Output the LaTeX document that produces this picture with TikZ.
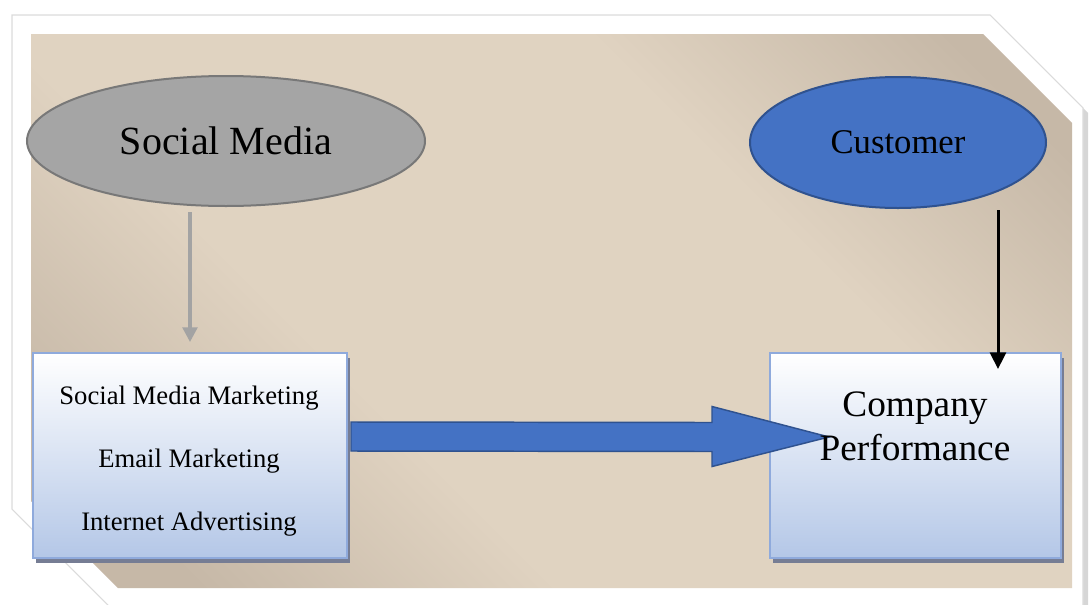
\documentclass[tikz,border=0pt]{standalone}
\usepackage{fontspec}
\setmainfont{Liberation Serif}
\usetikzlibrary{shapes.geometric,arrows.meta,calc,shadows,positioning}

\definecolor{paneltop}{RGB}{255,255,255}
\definecolor{panelbottom}{RGB}{180,199,231}
\definecolor{sandlight}{RGB}{224,211,193}
\definecolor{sanddark}{RGB}{198,184,167}

\pgfdeclarehorizontalshading{sandband}{100bp}{color(0bp)=(sanddark); color(22bp)=(sanddark); color(38bp)=(sandlight); color(64bp)=(sandlight); color(80bp)=(sanddark); color(100bp)=(sanddark)}

\begin{document}
\begin{tikzpicture}[x=0.75pt,y=0.75pt,yscale=-1,xscale=1,
  oval/.style={ellipse, line width=1.5pt, inner sep=0pt},
  panel/.style={rectangle, draw={rgb, 255:red, 143; green, 170; blue, 220 }, line width=1.5pt,
    top color=paneltop, bottom color=panelbottom,
    drop shadow={shadow xshift=2.5pt, shadow yshift=-3.5pt, fill={rgb, 255:red, 118; green, 125; blue, 148 }, opacity=1}},
  graylink/.style={draw={rgb, 255:red, 163; green, 163; blue, 163 }, line width=2.5pt, -{Triangle[width=11pt,length=11pt]}},
  blacklink/.style={draw=black, line width=2.25pt, -{Triangle[width=12pt,length=12.5pt]}},
  blockarrow/.style={draw={rgb, 255:red, 47; green, 82; blue, 143 }, fill={rgb, 255:red, 68; green, 114; blue, 196 }, line width=1.1pt, line join=miter}
]
\useasboundingbox (0,0) rectangle (1089,604);

%Frame shadow
\fill [black, opacity=0.16] (16,19) -- (994,19) -- (1088,113) -- (1088,610) -- (113,610) -- (16,513) -- cycle ;
%Frame
\draw [draw=black!14, line width=0.8pt, fill=white] (12,15) -- (990,15) -- (1083,108) -- (1083,606) -- (109,606) -- (12,509) -- cycle ;
%Sand panel
\path [shading=sandband, shading angle=45] (31,34) -- (983,34) -- (1072,123) -- (1072,588) -- (118,588) -- (31,501) -- cycle ;

% Ellipses
\node [oval, fill={rgb, 255:red, 165; green, 165; blue, 165 }, draw={rgb, 255:red, 120; green, 120; blue, 120 },
  minimum width=298.5pt, minimum height=97.5pt, font=\fontsize{30}{36}\selectfont] (social) at (226,141) {Social Media};
\node [oval, fill={rgb, 255:red, 68; green, 114; blue, 196 }, draw={rgb, 255:red, 47; green, 82; blue, 143 },
  minimum width=222pt, minimum height=98.25pt, font=\fontsize{26}{31}\selectfont] (cust) at (898,142.5) {Customer};

% Boxes
\node [panel, minimum width=235.5pt, minimum height=153.75pt] (mkt) at (190,455.5) {};
\node [panel, minimum width=218.25pt, minimum height=153.75pt] (perf) at (915.5,455.5) {};

% Text Node
\node [align=center, font=\fontsize{20}{47}\selectfont] (mktlabel) at (189,461) {Social Media Marketing\\Email Marketing\\Internet Advertising};

% Connectors
\draw [graylink, shorten <=3.75pt, shorten >=7.5pt] (social.south -| mkt.north) -- (mkt.north);
\draw [blacklink] ($(cust.south)+(100,1)$) -- ($(perf.north)+(82.5,17)$);

%Block arrow
\coordinate (tail) at ($(mkt.east)+(3,-19)$);
\coordinate (tip) at ($(perf.west)+(60,-18.5)$);
\draw [blockarrow] ($(tail)+(0,-14.5)$) -- ($(tip)+(-117,-14.5)$) -- ($(tip)+(-117,-30.5)$) -- (tip)
  -- ($(tip)+(-117,29.5)$) -- ($(tip)+(-117,14.5)$) -- ($(tail)+(0,14.5)$) -- cycle ;

% Text Node
\node [align=center, font=\fontsize{28}{33}\selectfont] (perflabel) at (915,426) {Company\\Performance};
\end{tikzpicture}
\end{document}
